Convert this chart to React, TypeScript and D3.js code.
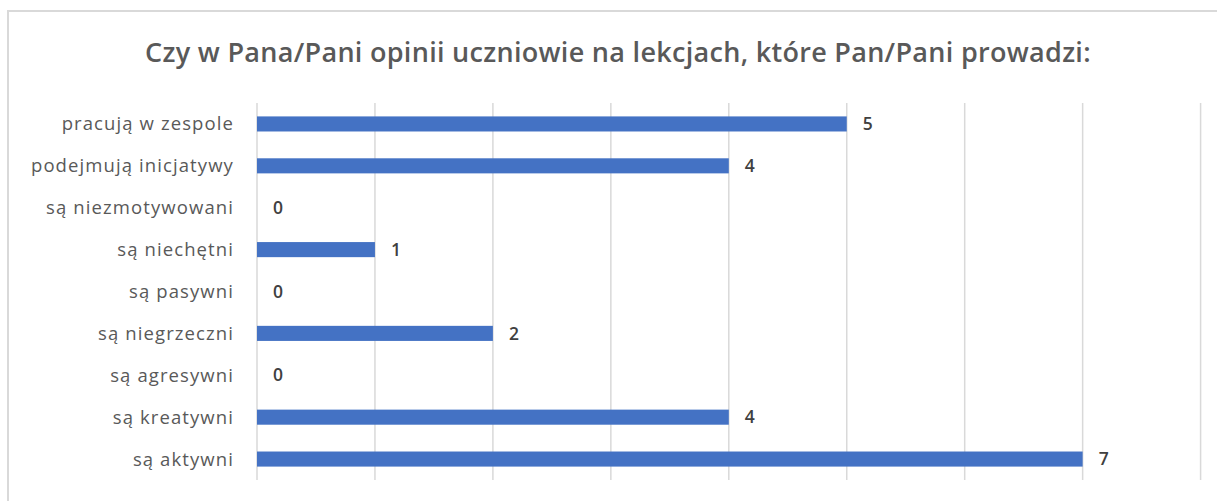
import React from "react";
import * as d3 from "d3";

const title = "Czy w Pana/Pani opinii uczniowie na lekcjach, które Pan/Pani prowadzi:";
const categories = [
  "pracują w zespole",
  "podejmują inicjatywy",
  "są niezmotywowani",
  "są niechętni",
  "są pasywni",
  "są niegrzeczni",
  "są agresywni",
  "są kreatywni",
  "są aktywni",
];
const values = [5, 4, 0, 1, 0, 2, 0, 4, 7];
const ticks = [0, 1, 2, 3, 4, 5, 6, 7, 8];

const W = 1217;
const H = 501;
const plotLeft = 257;
const plotRight = 1200.6;
const plotTop = 103;
const plotBottom = 480;

export default function App() {
  const x = d3.scaleLinear().domain([0, 8]).range([plotLeft, plotRight]);
  const y = d3
    .scaleBand<string>()
    .domain(categories)
    .range([plotTop, plotBottom])
    .paddingInner(0.64)
    .paddingOuter(0.32);
  const font = "'Open Sans', 'DejaVu Sans', sans-serif";
  return (
    <svg
      width={W}
      height={H}
      style={{ position: "absolute", left: 0, top: 0, background: "#fff" }}
    >
      <rect x={8} y={11} width={W} height={H} fill="#fff" stroke="#d9d9d9" strokeWidth={2} />
      <text
        x={618}
        y={62}
        textAnchor="middle"
        fontFamily={font}
        fontWeight={600}
        fontSize={27}
        letterSpacing={0.3}
        fill="#595959"
      >
        {title}
      </text>
      {ticks.map((t) => (
        <line
          key={t}
          x1={x(t)}
          x2={x(t)}
          y1={plotTop}
          y2={plotBottom}
          stroke="#d9d9d9"
          strokeWidth={1.5}
        />
      ))}
      {categories.map((c, i) => {
        const yc = (y(c) as number) + y.bandwidth() / 2;
        return (
          <g key={c}>
            <text
              x={234}
              y={yc}
              dy="0.35em"
              textAnchor="end"
              fontFamily={font}
              fontSize={18.5}
              letterSpacing={1.1}
              fill="#595959"
            >
              {c}
            </text>
            {values[i] > 0 && (
              <rect
                x={x(0)}
                y={y(c)}
                width={x(values[i]) - x(0)}
                height={y.bandwidth()}
                fill="#4472c4"
              />
            )}
            <text
              x={x(values[i]) + 16}
              y={yc}
              dy="0.35em"
              fontFamily={font}
              fontWeight={600}
              fontSize={17.5}
              fill="#404040"
            >
              {values[i]}
            </text>
          </g>
        );
      })}
    </svg>
  );
}
